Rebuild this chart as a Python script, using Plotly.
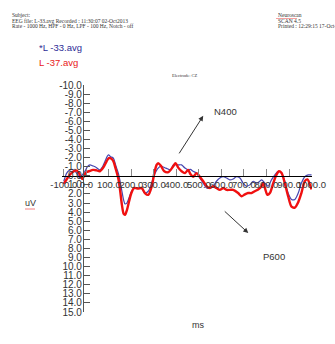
import plotly.graph_objects as go

# Averaged ERP waveforms at electrode CZ (time in ms, amplitude in uV)
t_l33 = [-100, -87, -75, -65, -55, -43, -28, -15, -6, 5, 16, 28, 39, 50, 61, 72, 83, 98, 108, 120,
         131, 142, 150, 158, 166, 172, 180, 190, 201, 213, 231, 246, 260, 275, 290, 302, 319, 331, 353, 375,
         386, 408, 423, 438, 452, 462, 474, 490, 504, 519, 534, 549, 563, 578, 593, 608, 623, 637, 652, 667,
         682, 696, 711, 726, 741, 756, 770, 778, 793, 807, 822, 837, 852, 867, 881, 896, 911, 926, 941, 955,
         970, 985, 1000]
v_l33 = [0.6, -0.3, -0.6, -0.7, -0.6, -0.3, 0.25, -0.2, -0.5, -1.0, -1.2, -1.1, -1.0, -0.8, -0.65, -1.0, -1.6, -2.3, -2.1, -1.95,
         -1.1, -0.3, 0.6, 1.7, 2.7, 3.1, 3.0, 2.4, 1.7, 1.4, 1.35, 1.4, 1.9, 1.7, 0.8, -0.1, -0.85, -1.05, -0.85, -0.65,
         -1.2, -1.2, -1.2, -0.85, -0.65, -0.7, -0.5, -0.3, 0.25, 0.8, 1.35, 1.35, 1.15, 0.6, 0.25, 0.1, 0.25, 0.45, 0.35, 0.1,
         0.25, 0.8, 1.15, 1.0, 0.6, 0.8, 0.6, 0.45, 0.8, 1.15, 0.45, -0.1, -0.5, -0.3, 0.6, 1.9, 2.6, 2.6, 1.9, 0.8,
         0.1, -0.1, -0.1]

t_l37 = [-100, -85, -70, -55, -45, -35, -25, -18, -10, 0, 12, 30, 45, 60, 75, 90, 100, 110, 120, 130,
         142, 150, 158, 166, 172, 180, 190, 200, 212, 230, 246, 260, 275, 290, 302, 312, 319, 331, 346, 364,
         386, 396, 408, 423, 438, 452, 462, 474, 490, 504, 519, 534, 549, 563, 578, 593, 608, 623, 637, 652,
         674, 689, 704, 718, 733, 748, 763, 778, 785, 793, 804, 815, 830, 844, 855, 867, 881, 896, 911, 926,
         941, 955, 970, 982, 993, 1000]
v_l37 = [0.9, 0.3, -0.2, -0.5, -0.6, -0.4, 0.1, 0.35, 0.0, -0.4, -0.5, -0.65, -0.6, -0.5, -0.9, -1.6, -1.95, -1.9, -1.6, -0.8,
         0.3, 1.6, 3.2, 4.2, 4.3, 3.8, 2.8, 1.9, 1.35, 1.4, 1.35, 1.9, 2.1, 1.2, -0.3, -1.2, -1.4, -1.1, -0.5, -0.4,
         -1.05, -1.4, -0.9, -0.5, -0.3, -0.65, -0.2, 0.1, -0.3, 0.1, 0.6, 1.15, 1.35, 1.15, 1.35, 1.55, 1.35, 1.55, 1.55, 1.55,
         1.9, 2.25, 2.05, 1.9, 1.9, 1.7, 1.5, 1.15, 0.8, 1.35, 2.1, 1.9, 0.8, -0.1, -0.5, -0.3, 0.8, 2.25, 3.4, 3.5,
         2.9, 1.9, 0.6, 0.4, 1.0, 1.5]

x_ticks = list(range(-100, 1001, 100))
y_ticks = list(range(-10, 16))

header_left = ["Subject:",
               "EEG file: L-33.avg Recorded : 11:30:07 02-Oct2013",
               "Rate - 1000 Hz, HPF - 0 Hz, LPF - 100 Hz, Notch - off"]
header_right = ["Neuroscan", "SCAN 4.5", "Printed : 12:29:15 17-Oct-2013"]

W, H = 335, 344
L, R, T, B = 62, 23, 85, 32
PW, PH = W - L - R, H - T - B
X_RANGE = [-108, 1002]
Y_RANGE = [15, -10]

SANS = "Liberation Sans, Arial, sans-serif"
SERIF = "Liberation Serif, Times New Roman, serif"


def px(x):
    return (x - L) / PW


def py(y):
    return (H - B - y) / PH


fig = go.Figure()
fig.add_trace(go.Scatter(x=t_l33, y=v_l33, mode="lines", name="*L -33.avg",
                         line=dict(color="#4545b0", width=1.2, shape="spline", smoothing=0.8)))
fig.add_trace(go.Scatter(x=t_l37, y=v_l37, mode="lines", name="L -37.avg",
                         line=dict(color="#f01010", width=2.4, shape="spline", smoothing=0.8)))

ann = []
for i, s in enumerate(header_left):
    ann.append(dict(x=px(10), y=py(15 + i * 5.6), text=s, xanchor="left", yanchor="middle",
                    font=dict(family=SERIF, size=5.5, color="#333")))
for i, s in enumerate(header_right):
    ann.append(dict(x=px(276), y=py(15 + i * 5.6), text=s, xanchor="left", yanchor="middle",
                    font=dict(family=SERIF, size=5.5, color="#333")))
ann += [
    dict(x=px(37), y=py(47), text="*L -33.avg", xanchor="left", yanchor="middle",
         font=dict(family=SANS, size=9.5, color="#2c2c96")),
    dict(x=px(37), y=py(62), text="L -37.avg", xanchor="left", yanchor="middle",
         font=dict(family=SANS, size=9.5, color="#e81818")),
    dict(x=px(185), y=py(75.5), text="Electrode: CZ", xanchor="center", yanchor="middle",
         font=dict(family=SERIF, size=4.5, color="#333")),
    dict(x=px(30), y=py(203), text="uV", xanchor="center", yanchor="middle",
         font=dict(family=SANS, size=9, color="#333")),
    dict(x=px(198), y=py(325), text="ms", xanchor="center", yanchor="middle",
         font=dict(family=SANS, size=9, color="#333")),
    dict(x=616, y=-7.1, xref="x", yref="y", text="N400", showarrow=False,
         font=dict(family=SANS, size=9.5, color="#333")),
    dict(x=833, y=8.85, xref="x", yref="y", text="P600", showarrow=False,
         font=dict(family=SANS, size=9.5, color="#333")),
    dict(x=519, y=-6.6, xref="x", yref="y", ax=-25, ay=39, text="", showarrow=True,
         arrowhead=2, arrowsize=1, arrowwidth=1, arrowcolor="#333"),
    dict(x=719, y=6.3, xref="x", yref="y", ax=-25, ay=-23, text="", showarrow=True,
         arrowhead=2, arrowsize=1, arrowwidth=1, arrowcolor="#333"),
]
for a in ann:
    a.setdefault("xref", "paper")
    a.setdefault("yref", "paper")
    a.setdefault("showarrow", False)

shapes = [
    # spell-check squiggles under "uV" and "Neuroscan"
    dict(type="line", xref="paper", yref="paper", x0=px(25), x1=px(35), y0=py(209), y1=py(209),
         line=dict(color="#f06060", width=0.8)),
    dict(type="line", xref="paper", yref="paper", x0=px(276), x1=px(297), y0=py(18.5), y1=py(18.5),
         line=dict(color="#f06060", width=0.6)),
]

yaxis_pos = (-15 - X_RANGE[0]) / (X_RANGE[1] - X_RANGE[0])
zero_pos = (Y_RANGE[0] - 0) / (Y_RANGE[0] - Y_RANGE[1])

fig.update_layout(
    width=W, height=H,
    margin=dict(l=L, r=R, t=T, b=B, autoexpand=False),
    paper_bgcolor="white", plot_bgcolor="white",
    showlegend=False,
    annotations=ann, shapes=shapes,
    xaxis=dict(range=X_RANGE, domain=[0, 1], anchor="free", position=zero_pos,
               tickvals=x_ticks, ticktext=[f"{v:.1f}" for v in x_ticks], tickangle=0,
               ticks="inside", ticklen=7, tickcolor="#888", tickwidth=1,
               showline=True, linecolor="black", linewidth=1,
               showgrid=False, zeroline=False,
               tickfont=dict(family=SANS, size=9.5, color="#333")),
    yaxis=dict(range=Y_RANGE, domain=[0, 1], anchor="free", position=yaxis_pos,
               tickvals=y_ticks, ticktext=[f"{v:.1f}" for v in y_ticks],
               ticks="inside", ticklen=6, tickcolor="#555", tickwidth=1,
               showline=True, linecolor="#555", linewidth=1,
               showgrid=False, zeroline=False, ticklabelstandoff=-1,
               tickfont=dict(family=SANS, size=10, color="#333")),
)

fig.write_html("out.html")
